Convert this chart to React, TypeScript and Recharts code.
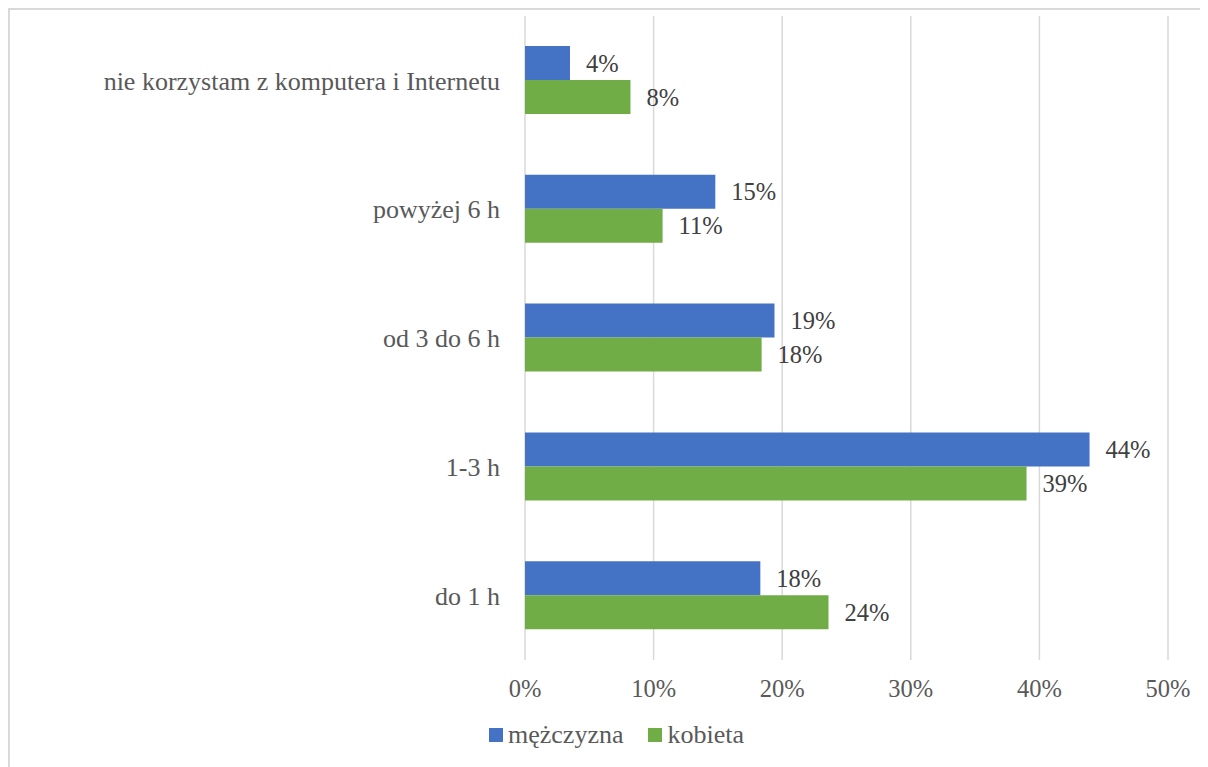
import React from 'react';
import { BarChart, Bar, XAxis, YAxis, CartesianGrid, LabelList } from 'recharts';

const categories = ['nie korzystam z komputera i Internetu', 'powyżej 6 h', 'od 3 do 6 h', '1-3 h', 'do 1 h'];
const mezczyzna = [3.5, 14.8, 19.4, 43.9, 18.3];
const kobieta = [8.2, 10.7, 18.4, 39.0, 23.6];
const xTicks = [0, 10, 20, 30, 40, 50];

const seriesNames = ['mężczyzna', 'kobieta'];
const colors = ['#4472C4', '#70AD47'];

const data = categories.map((c, i) => ({ name: c, m: mezczyzna[i], k: kobieta[i] }));

const FONT = 'Liberation Serif';
const FS = 26;     // category and legend text
const FS_NUM = 24.5; // percentages

const LegendBox = () => (
    <div style={{ position: 'absolute', left: 479, top: 710, display: 'flex', alignItems: 'center', fontFamily: FONT, fontSize: FS, color: '#595959' }}>
        {seriesNames.map((n, i) => (
            <div key={n} style={{ display: 'flex', alignItems: 'center', marginRight: 25 }}>
                <span style={{ display: 'inline-block', width: 14, height: 14, background: colors[i], marginRight: 5 }} />
                <span>{n}</span>
            </div>
        ))}
    </div>
);

export default function App() {
    return (
        <div style={{ position: 'relative', width: 1210, height: 757, border: '2px solid #d9d9d9' }}>
            <style>{'html, body { overflow: hidden; }'}</style>
            <BarChart
                width={1200}
                height={757}
                data={data}
                layout="vertical"
                margin={{ top: 6, right: 42, left: 0, bottom: 77 }}
                barGap={0}
            >
                <CartesianGrid horizontal={false} stroke="#d9d9d9" strokeWidth={1.5} />
                <XAxis
                    type="number"
                    domain={[0, 50]}
                    ticks={xTicks}
                    tickFormatter={(v) => `${v}%`}
                    axisLine={false}
                    tickLine={false}
                    tickSize={0}
                    tickMargin={20}
                    height={30}
                    tick={{ fill: '#595959', fontSize: FS_NUM, fontFamily: FONT }}
                />
                <YAxis
                    type="category"
                    dataKey="name"
                    width={515}
                    axisLine={false}
                    tickLine={false}
                    tickSize={0}
                    tickMargin={25}
                    tick={{ fill: '#595959', fontSize: FS, fontFamily: FONT }}
                />
                <Bar dataKey="m" name="mężczyzna" fill={colors[0]} barSize={34} isAnimationActive={false}>
                    <LabelList dataKey="m" position="right" offset={16} formatter={(v: any) => `${Math.round(v)}%`}
                        fill="#404040" fontSize={FS_NUM} fontFamily={FONT} />
                </Bar>
                <Bar dataKey="k" name="kobieta" fill={colors[1]} barSize={34} isAnimationActive={false}>
                    <LabelList dataKey="k" position="right" offset={16} formatter={(v: any) => `${Math.round(v)}%`}
                        fill="#404040" fontSize={FS_NUM} fontFamily={FONT} />
                </Bar>
            </BarChart>
            <LegendBox />
        </div>
    );
}
